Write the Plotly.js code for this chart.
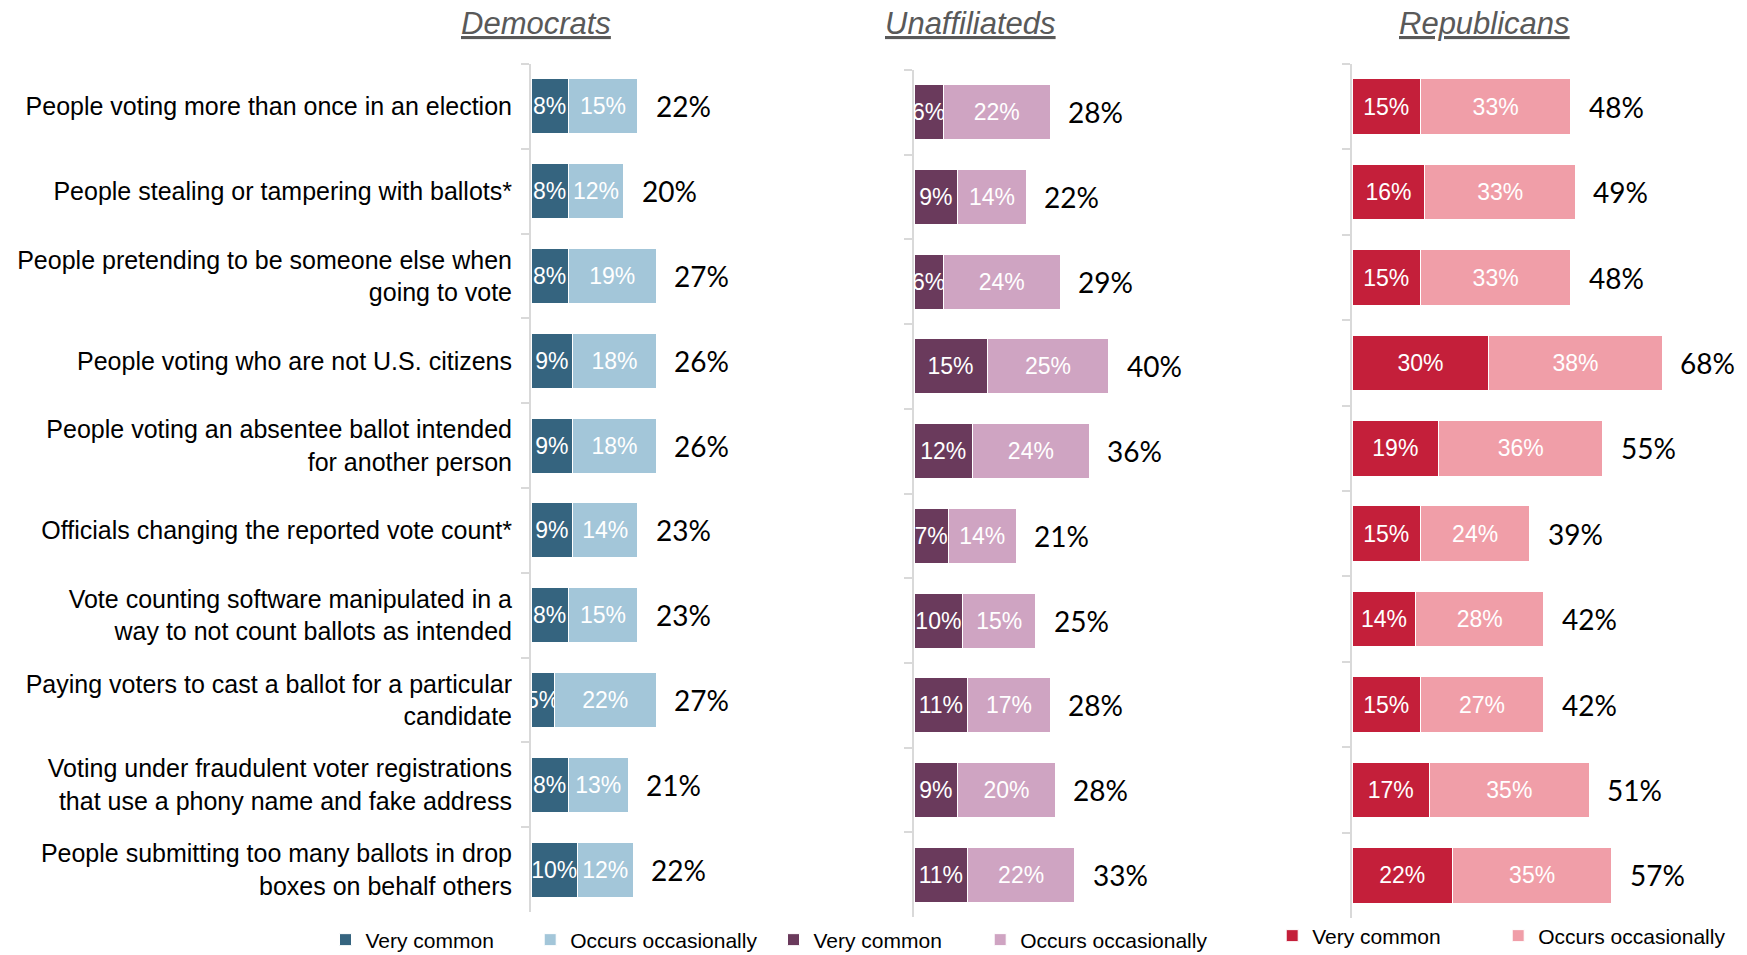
<!DOCTYPE html>
<html><head><meta charset="utf-8">
<script src="https://cdn.plot.ly/plotly-3.0.1.min.js"></script>
<style>html,body{margin:0;padding:0;background:#fff}#chart{width:1747px;height:955px}</style>
</head><body><div id="chart"></div>
<script>
const categories = [
  "People voting more than once in an election",
  "People stealing or tampering with ballots*",
  "People pretending to be someone else when<br>going to vote",
  "People voting who are not U.S. citizens",
  "People voting an absentee ballot intended<br>for another person",
  "Officials changing the reported vote count*",
  "Vote counting software manipulated in a<br>way to not count ballots as intended",
  "Paying voters to cast a ballot for a particular<br>candidate",
  "Voting under fraudulent voter registrations<br>that use a phony name and fake address",
  "People submitting too many ballots in drop<br>boxes on behalf others"
];
const groups = ["Democrats", "Unaffiliateds", "Republicans"];
const seriesNames = ["Very common", "Occurs occasionally"];

const demVery = [8, 8, 8, 9, 9, 9, 8, 5, 8, 10];
const demOcc = [15, 12, 19, 18, 18, 14, 15, 22, 13, 12];
const demTotal = [22, 20, 27, 26, 26, 23, 23, 27, 21, 22];

const unaVery = [6, 9, 6, 15, 12, 7, 10, 11, 9, 11];
const unaOcc = [22, 14, 24, 25, 24, 14, 15, 17, 20, 22];
const unaTotal = [28, 22, 29, 40, 36, 21, 25, 28, 28, 33];

const repVery = [15, 16, 15, 30, 19, 15, 14, 15, 17, 22];
const repOcc = [33, 33, 33, 38, 36, 24, 28, 27, 35, 35];
const repTotal = [48, 49, 48, 68, 55, 39, 42, 42, 51, 57];

const W = 1747, H = 955;
const NARROW = "Liberation Sans Narrow, Arial Narrow, Liberation Sans, sans-serif";
const SANS = "Liberation Sans, Arial, sans-serif";
const TOTALFONT = "Lato, Open Sans, sans-serif";

const panels = [
  {very: demVery, occ: demOcc, total: demTotal, colors: ["#35647f", "#a3c6d9"], x0: 531, ppu: 4.64, range: 60, top: 64, bottom: 912, titleX: 536, legX: [325.5, 530.2], legY: 940},
  {very: unaVery, occ: unaOcc, total: unaTotal, colors: ["#6a3a5c", "#cfa4c2"], x0: 914, ppu: 4.87, range: 60, top: 70, bottom: 917, titleX: 970, legX: [773.5, 980.2], legY: 940},
  {very: repVery, occ: repOcc, total: repTotal, colors: ["#c41f3a", "#f09ea8"], x0: 1352, ppu: 4.56, range: 80, top: 64, bottom: 918, titleX: 1484, legX: [1272.2, 1498.2], legY: 936}
];

const traces = [];
const annotations = [];
const layout = {
  width: W, height: H,
  margin: {l: 0, r: 0, t: 0, b: 0, autoexpand: false},
  paper_bgcolor: "#fff", plot_bgcolor: "#fff",
  barmode: "stack", bargap: 0.35,
  showlegend: true,
  font: {family: SANS, color: "#000"},
  annotations: annotations
};

let legIdx = 0;
panels.forEach((p, i) => {
  const n = i === 0 ? "" : String(i + 1);
  const xa = "x" + n, ya = "y" + n;
  [p.very, p.occ].forEach((vals, s) => {
    legIdx += 1;
    const legName = legIdx === 1 ? "legend" : "legend" + legIdx;
    traces.push({
      type: "bar", orientation: "h",
      x: vals, y: categories,
      xaxis: xa, yaxis: ya,
      name: seriesNames[s],
      legend: legName,
      marker: {color: p.colors[s], line: {color: "#ffffff", width: 1}},
      text: vals.map(v => v + "%"),
      textposition: "inside",
      insidetextanchor: "middle",
      textangle: 0,
      constraintext: "none",
      cliponaxis: true,
      textfont: {family: NARROW, size: 23, color: "#ffffff"},
      hoverinfo: "skip"
    });
    layout[legName] = {
      orientation: "h", x: p.legX[s] / W, xanchor: "left",
      y: 1 - p.legY / H, yanchor: "middle",
      bgcolor: "rgba(0,0,0,0)",
      font: {family: SANS, size: 21, color: "#000"}
    };
  });
  layout["xaxis" + n] = {
    domain: [p.x0 / W, (p.x0 + p.range * p.ppu) / W],
    range: [0, p.range], visible: false, fixedrange: true,
    anchor: ya
  };
  layout["yaxis" + n] = {
    domain: [1 - p.bottom / H, 1 - p.top / H],
    anchor: xa, type: "category", autorange: "reversed",
    showline: true, linecolor: "#d9d9d9", linewidth: 2,
    ticks: "outside", tickson: "boundaries", ticklen: 8, tickwidth: 2, tickcolor: "#d9d9d9",
    showgrid: false, zeroline: false,
    showticklabels: i === 0,
    ticklabelstandoff: 12,
    tickfont: {family: NARROW, size: 25, color: "#000"},
    fixedrange: true
  };
  p.total.forEach((t, k) => {
    annotations.push({
      xref: xa, yref: ya, x: p.very[k] + p.occ[k], y: categories[k],
      text: t + "%", showarrow: false, xanchor: "left", yanchor: "middle",
      xshift: 16, font: {family: TOTALFONT, size: 28, color: "#000"}
    });
  });
  annotations.push({
    xref: "paper", yref: "paper", x: p.titleX / W, y: 1 - 23 / H,
    text: groups[i], showarrow: false, xanchor: "center", yanchor: "middle",
    font: {family: NARROW, size: 31, color: "#595959", style: "italic", lineposition: "under"}
  });
});

Plotly.newPlot("chart", traces, layout, {displayModeBar: false, staticPlot: true});
</script>
</body></html>
